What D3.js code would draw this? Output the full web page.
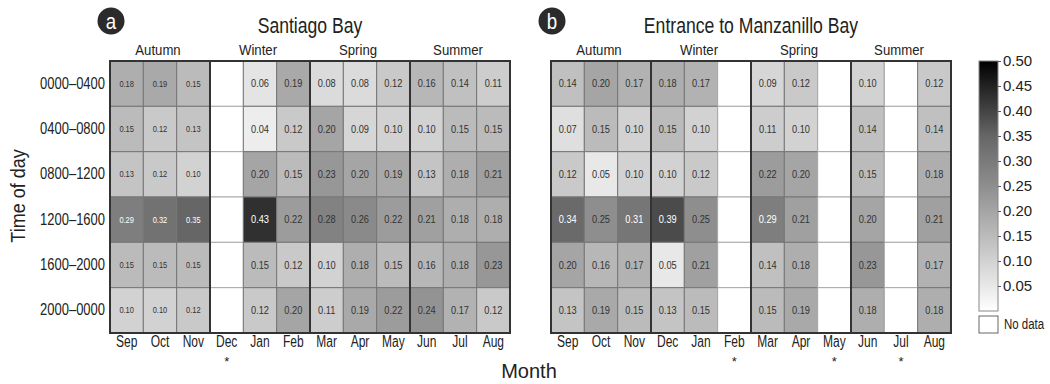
<!DOCTYPE html>
<html>
<head>
<meta charset="utf-8">
<script src="https://cdn.jsdelivr.net/npm/d3@7"></script>
<style>
  body { margin: 0; background: #fff; }
  svg text { font-family: "Liberation Sans", Arial, sans-serif; fill: #222; }
</style>
</head>
<body>
<div id="container"></div>
<script>
let w = 1050;
let h = 384;

// data
let months = ["Sep", "Oct", "Nov", "Dec", "Jan", "Feb", "Mar", "Apr", "May", "Jun", "Jul", "Aug"];
let times = ["0000–0400", "0400–0800", "0800–1200", "1200–1600", "1600–2000", "2000–0000"];
let seasons = ["Autumn", "Winter", "Spring", "Summer"];
let legendTicks = [0.05, 0.10, 0.15, 0.20, 0.25, 0.30, 0.35, 0.40, 0.45, 0.50];

// Santiago Bay, one row per time of day (null = no data)
let santiago = [
  [0.18, 0.19, 0.15, null, 0.06, 0.19, 0.08, 0.08, 0.12, 0.16, 0.14, 0.11],
  [0.15, 0.12, 0.13, null, 0.04, 0.12, 0.20, 0.09, 0.10, 0.10, 0.15, 0.15],
  [0.13, 0.12, 0.10, null, 0.20, 0.15, 0.23, 0.20, 0.19, 0.13, 0.18, 0.21],
  [0.29, 0.32, 0.35, null, 0.43, 0.22, 0.28, 0.26, 0.22, 0.21, 0.18, 0.18],
  [0.15, 0.15, 0.15, null, 0.15, 0.12, 0.10, 0.18, 0.15, 0.16, 0.18, 0.23],
  [0.10, 0.10, 0.12, null, 0.12, 0.20, 0.11, 0.19, 0.22, 0.24, 0.17, 0.12]
];

// Entrance to Manzanillo Bay
let manzanillo = [
  [0.14, 0.20, 0.17, 0.18, 0.17, null, 0.09, 0.12, null, 0.10, null, 0.12],
  [0.07, 0.15, 0.10, 0.15, 0.10, null, 0.11, 0.10, null, 0.14, null, 0.14],
  [0.12, 0.05, 0.10, 0.10, 0.12, null, 0.22, 0.20, null, 0.15, null, 0.18],
  [0.34, 0.25, 0.31, 0.39, 0.25, null, 0.29, 0.21, null, 0.20, null, 0.21],
  [0.20, 0.16, 0.17, 0.05, 0.21, null, 0.14, 0.18, null, 0.23, null, 0.17],
  [0.13, 0.19, 0.15, 0.13, 0.15, null, 0.15, 0.19, null, 0.18, null, 0.18]
];

let gridTop = 61;
let gridH = 272;
let gridW = 400;

let viz = d3.select("#container")
  .append("svg")
    .attr("width", w)
    .attr("height", h)
;

// squeeze text horizontally (no condensed font installed)
function condense(sel, ratio){
  sel.each(function(){
    let len = this.getComputedTextLength();
    d3.select(this)
      .attr("textLength", len * ratio)
      .attr("lengthAdjust", "spacingAndGlyphs");
  });
}

let colorScale = d3.scaleLinear()
  .domain([0, 0.25, 0.35, 0.5])
  .range(["#ffffff", "#8e8e8e", "#666666", "#000000"]);

let xScale = d3.scaleBand().domain(months).range([0, gridW]);
let yScale = d3.scaleBand().domain(times).range([0, gridH]);

function drawPanel(data, left, title, letter, smallCols){
  let panel = viz.append("g").attr("transform", "translate(" + left + ", " + gridTop + ")");

  // flatten rows into cells
  let cells = [];
  data.forEach(function(row, r){
    row.forEach(function(v, c){
      cells.push({month: months[c], time: times[r], value: v, col: c});
    });
  });

  let cellGroups = panel.selectAll(".cell").data(cells).enter()
    .append("g")
      .attr("class", "cell")
      .attr("transform", function(d){ return "translate(" + xScale(d.month) + ", " + yScale(d.time) + ")"; })
  ;
  cellGroups.append("rect")
    .attr("width", xScale.bandwidth())
    .attr("height", yScale.bandwidth())
    .attr("fill", function(d){ return d.value == null ? "#ffffff" : colorScale(d.value); })
    .attr("stroke", function(d){ return d.value == null ? "#aaaaaa" : "#777777"; })
    .attr("stroke-width", 1)
  ;
  let labels = cellGroups.filter(function(d){ return d.value != null; })
    .append("text")
      .text(function(d){ return d.value.toFixed(2); })
      .attr("x", xScale.bandwidth() / 2)
      .attr("y", yScale.bandwidth() / 2)
      .attr("dy", "0.35em")
      .attr("text-anchor", "middle")
      .attr("font-size", function(d){ return d.col < smallCols ? "8.5px" : "10.5px"; })
      .style("fill", function(d){ return d.value >= 0.29 ? "#ffffff" : "#333333"; })
  ;
  condense(labels, 0.88);

  // season boxes (thick lines)
  seasons.forEach(function(s, i){
    let x0 = xScale(months[i * 3]);
    let x1 = xScale(months[i * 3 + 2]) + xScale.bandwidth();
    panel.append("rect")
      .attr("x", x0).attr("y", 0)
      .attr("width", x1 - x0).attr("height", gridH)
      .attr("fill", "none")
      .attr("stroke", "#333")
      .attr("stroke-width", 2)
    ;
    let t = panel.append("text")
      .text(s)
      .attr("x", (x0 + x1) / 2 - 2)
      .attr("y", -6)
      .attr("text-anchor", "middle")
      .attr("font-size", "15.5px")
    ;
    condense(t, 0.85);
  });

  // month axis
  let xAxisGroup = panel.append("g").attr("class", "xaxis")
    .attr("transform", "translate(0, " + gridH + ")");
  xAxisGroup.call(d3.axisBottom(xScale).tickSize(0).tickPadding(3));
  xAxisGroup.select(".domain").remove();
  xAxisGroup.selectAll("text").attr("font-size", "16px").attr("font-family", null).style("fill", "#222");
  condense(xAxisGroup.selectAll("text"), 0.75);

  // asterisks for months without data
  let missing = months.filter(function(m, c){ return data.every(function(row){ return row[c] == null; }); });
  panel.selectAll(".star").data(missing).enter()
    .append("text")
      .attr("class", "star")
      .text("*")
      .attr("x", function(d){ return xScale(d) + xScale.bandwidth() / 2; })
      .attr("y", gridH + 33)
      .attr("text-anchor", "middle")
      .attr("font-size", "13px")
  ;

  // title and letter badge
  let tt = panel.append("text")
    .text(title)
    .attr("x", gridW / 2)
    .attr("y", -28)
    .attr("text-anchor", "middle")
    .attr("font-size", "22px")
  ;
  condense(tt, 0.8);
  panel.append("circle")
    .attr("cx", 1).attr("cy", -40)
    .attr("r", 13.5)
    .attr("fill", "#2b2b2b")
  ;
  let lt = panel.append("text")
    .text(letter)
    .attr("x", 1).attr("y", -40)
    .attr("dy", "0.36em")
    .attr("text-anchor", "middle")
    .attr("font-size", "22px")
    .style("fill", "#ffffff")
  ;
  condense(lt, 0.85);
  return panel;
}

let leftPanel = drawPanel(santiago, 110, "Santiago Bay", "a", 3);
drawPanel(manzanillo, 551, "Entrance to Manzanillo Bay", "b", 0);

// time of day axis on the left panel
let yAxisGroup = leftPanel.append("g").attr("class", "yaxis");
yAxisGroup.call(d3.axisLeft(yScale).tickSize(0).tickPadding(5));
yAxisGroup.select(".domain").remove();
yAxisGroup.selectAll("text").attr("font-size", "16px").attr("font-family", null).style("fill", "#222");
condense(yAxisGroup.selectAll("text"), 0.81);

// axis titles
viz.append("text")
  .text("Month")
  .attr("x", 529).attr("y", 378)
  .attr("text-anchor", "middle")
  .attr("font-size", "20px")
;
let yTitle = viz.append("text")
  .text("Time of day")
  .attr("transform", "translate(25, 196) rotate(-90)")
  .attr("text-anchor", "middle")
  .attr("font-size", "20px")
;
condense(yTitle, 0.9);

// legend colour bar
let legendX = 979;
let legendW = 19;
let legendScale = d3.scaleLinear().domain([0, 0.5]).range([311, 61]);

let defs = viz.append("defs");
let grad = defs.append("linearGradient")
  .attr("id", "greyGrad")
  .attr("x1", 0).attr("y1", 1).attr("x2", 0).attr("y2", 0);
d3.range(0, 0.5001, 0.05).forEach(function(v){
  grad.append("stop")
    .attr("offset", (v / 0.5) * 100 + "%")
    .attr("stop-color", colorScale(v));
});

viz.append("rect")
  .attr("x", legendX).attr("y", legendScale(0.5))
  .attr("width", legendW).attr("height", legendScale(0) - legendScale(0.5))
  .attr("fill", "url(#greyGrad)")
  .attr("stroke", "#888")
  .attr("stroke-width", 1)
;
let legendAxisGroup = viz.append("g")
  .attr("transform", "translate(" + (legendX + legendW) + ", 0)");
legendAxisGroup.call(
  d3.axisRight(legendScale).tickValues(legendTicks).tickSize(3).tickPadding(2)
    .tickFormat(d3.format(".2f"))
);
legendAxisGroup.select(".domain").remove();
legendAxisGroup.selectAll("line").attr("stroke", "#555");
legendAxisGroup.selectAll("text").attr("font-size", "15px").attr("font-family", null).style("fill", "#222");

// no data key
viz.append("rect")
  .attr("x", legendX).attr("y", 316)
  .attr("width", legendW).attr("height", 17)
  .attr("fill", "#fff")
  .attr("stroke", "#666")
;
viz.append("text")
  .text("No data")
  .attr("transform", "translate(" + (legendX + legendW + 6) + ", 324.5) scale(0.82, 1)")
  .attr("dy", "0.35em")
  .attr("font-size", "14px")
;
</script>
</body>
</html>
